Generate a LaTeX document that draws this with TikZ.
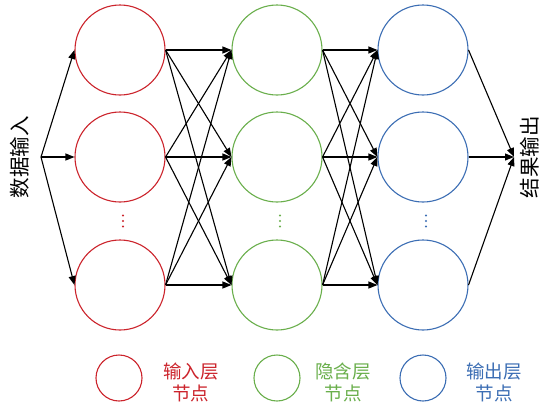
\documentclass[tikz,border=0pt]{standalone}
\usepackage{fontspec}
\newfontfamily\cjk{Noto Sans CJK SC}
\usetikzlibrary{arrows.meta}
\definecolor{layerred}{RGB}{204,36,44}
\definecolor{layergreen}{RGB}{106,175,76}
\definecolor{layerblue}{RGB}{60,110,180}
\begin{document}
\begin{tikzpicture}[x=1pt,y=-1pt,
  neuron/.style={circle,draw=#1,line width=1.1pt,minimum size=90pt,inner sep=0pt},
  keycircle/.style={circle,draw=#1,line width=1.1pt,minimum size=46pt,inner sep=0pt},
  link/.style={line width=1.1pt,-{Triangle[length=9pt,width=7pt]}},
  lbl/.style={font=\cjk\fontsize{20.5}{22}\selectfont,inner sep=0pt},
  keytext/.style={font=\cjk\fontsize{18.5}{22}\selectfont,align=center,text=#1},
  dotmark/.style={circle,fill=#1,inner sep=0pt,minimum size=2.4pt}]
  \useasboundingbox (0,0) rectangle (542,408);
  \fill[white] (0,0) rectangle (542,408);

  % three layers of neurons
  \foreach \c/\x/\col in {i/120/layerred,h/277/layergreen,o/423/layerblue}{
    \node[neuron=\col] (\c1) at (\x,50) {};
    \node[neuron=\col] (\c2) at (\x,157) {};
    \node[neuron=\col] (\c3) at (\x,285) {};
    \foreach \d in {-5.5,0,5.5}
      \node[dotmark=\col] at (\x+3,221+\d) {};
  }

  % input fan-out and output fan-in
  \coordinate (src) at (41,157);
  \coordinate (dst) at (514,157);
  \foreach \k in {1,2,3}{
    \draw[link] (src) -- (i\k.west);
    \draw[link] (o\k.east) -- (dst);
  }

  % full connections between neighbouring layers
  \foreach \a in {1,2,3}
    \foreach \b in {1,2,3}{
      \draw[link] (i\a.east) -- (h\b.west);
      \draw[link] (h\a.east) -- (o\b.west);
    }

  % side labels
  \node[lbl,rotate=90] (inlabel) at (20,157) {数据输入};
  \node[lbl,rotate=90] (outlabel) at (530,157) {结果输出};

  % legend
  \node[keycircle=layerred] (k1) at (119,378) {};
  \node[keycircle=layergreen] (k2) at (277,378) {};
  \node[keycircle=layerblue] (k3) at (423,378) {};
  \node[keytext=layerred] (t1) at (191,382) {输入层\\节点};
  \node[keytext=layergreen] (t2) at (343,382) {隐含层\\节点};
  \node[keytext=layerblue] (t3) at (494,382) {输出层\\节点};
\end{tikzpicture}
\end{document}
